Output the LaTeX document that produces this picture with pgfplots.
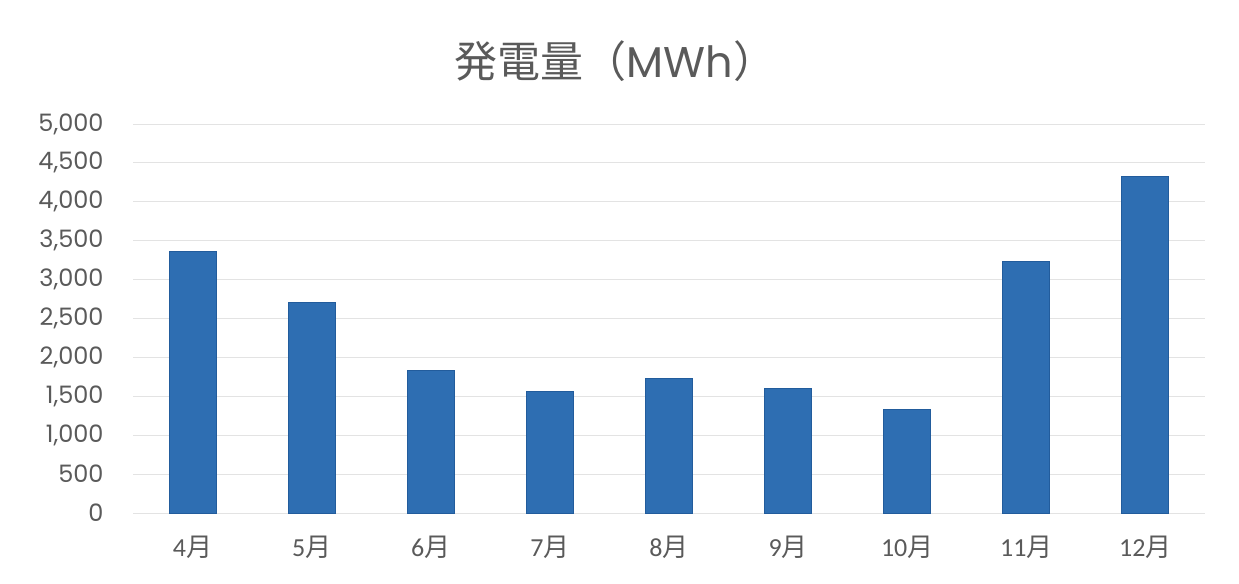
\documentclass[border=0pt]{standalone}
\usepackage{fontspec}
\usepackage{pgfplots}
\pgfplotsset{compat=1.18}
\setmainfont{Noto Sans CJK JP}
\newfontfamily\cjk{Noto Sans CJK JP}
\newfontfamily\poppins{Poppins}
\newfontfamily\carlito{Carlito}
\newcommand\mo[1]{{\carlito #1}{\cjk 月}}
\definecolor{barblue}{HTML}{2E6EB2}
\definecolor{baredge}{HTML}{225C9C}
\definecolor{txt}{HTML}{5A5A5A}
\begin{document}
\begin{tikzpicture}
\useasboundingbox (-133bp,-71bp) rectangle (1106bp,513bp);
\begin{axis}[
  at={(0,0)}, anchor=south west,
  scale only axis, width=1072bp, height=389bp,
  xmin=-0.5, xmax=8.5, ymin=0, ymax=5000,
  ytick={0,500,...,5000},
  xtick={0,...,8},
  xticklabels={\mo{4},\mo{5},\mo{6},\mo{7},\mo{8},\mo{9},\mo{10},\mo{11},\mo{12}},
  axis line style={draw=none},
  major tick length=0pt,
  ymajorgrids, grid style={gray!22, line width=0.8bp},
  axis on top=false,
  /pgf/number format/assume math mode=true,
  /pgf/number format/1000 sep={,},
  yticklabel style={font=\poppins\fontsize{24bp}{27bp}\selectfont, text=txt, xshift=-26bp},
  xticklabel style={font=\fontsize{26bp}{30bp}\selectfont, text=txt, yshift=-20bp},
  title={発電量（{\poppins MWh}）},
  title style={at={(0.45,1)}, anchor=center, yshift=57bp, font=\fontsize{43bp}{48bp}\selectfont, text=txt},
  ybar, bar width=47bp,
]
\addplot[fill=barblue, draw=baredge, line width=1bp] coordinates {
  (0,3360) (1,2708) (2,1829) (3,1565) (4,1731) (5,1594) (6,1328) (7,3230) (8,4323)
};
\end{axis}
\end{tikzpicture}
\end{document}
